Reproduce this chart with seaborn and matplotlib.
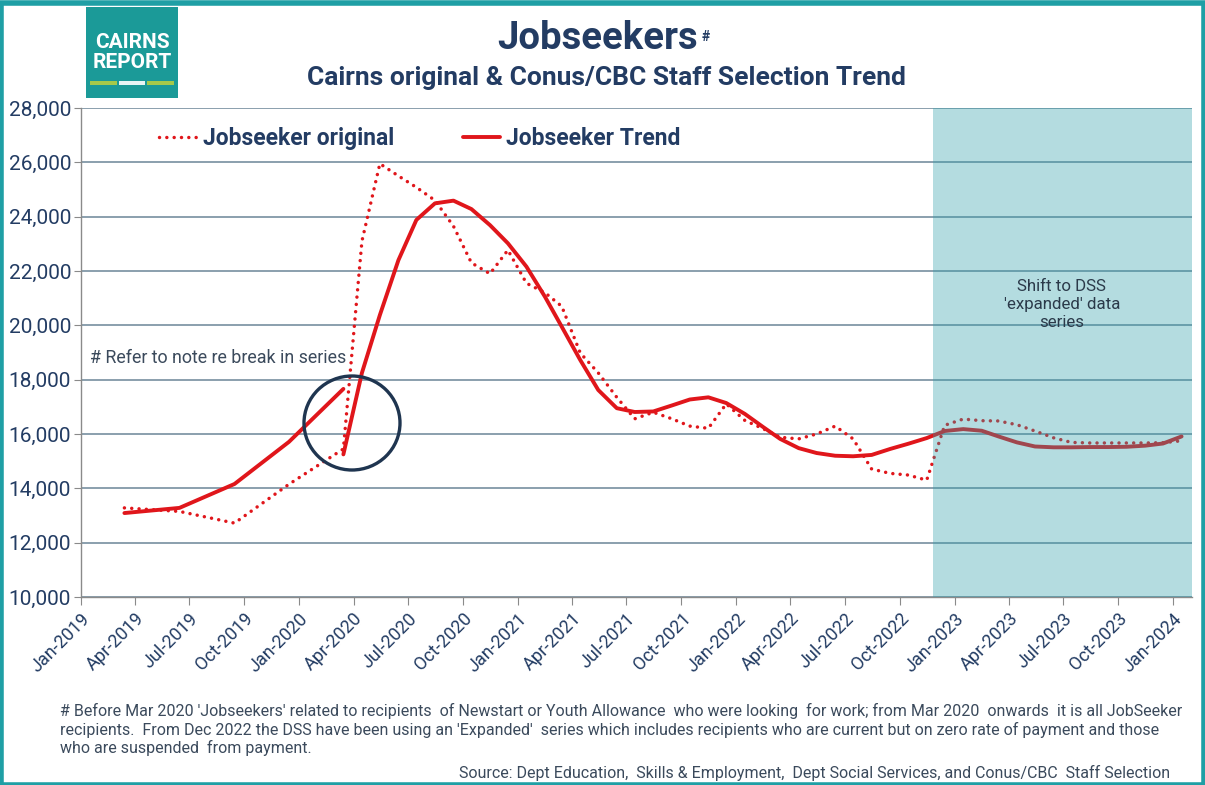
import pandas as pd
import seaborn as sns
import matplotlib.pyplot as plt
import matplotlib.dates as mdates
from matplotlib.patches import Ellipse, Rectangle
from matplotlib.ticker import FuncFormatter
from matplotlib import font_manager

# ---- data ----
orig_months = ['2019-03', '2019-06', '2019-09', '2019-12', '2020-03',
               '2020-04', '2020-05', '2020-06', '2020-07', '2020-08', '2020-09',
               '2020-10', '2020-11', '2020-12', '2021-01', '2021-02', '2021-03',
               '2021-04', '2021-05', '2021-06', '2021-07', '2021-08', '2021-09',
               '2021-10', '2021-11', '2021-12', '2022-01', '2022-02', '2022-03',
               '2022-04', '2022-05', '2022-06', '2022-07', '2022-08', '2022-09',
               '2022-10', '2022-11', '2022-12', '2023-01', '2023-02', '2023-03',
               '2023-04', '2023-05', '2023-06', '2023-07', '2023-08', '2023-09',
               '2023-10', '2023-11', '2023-12', '2024-01']
orig_values = [13280, 13150, 12720, 14150, 15450,
               23100, 25950, 25500, 25080, 24600, 23650,
               22300, 21900, 22770, 21550, 21200, 20700,
               18980, 18250, 17350, 16560, 16800, 16560,
               16290, 16210, 17110, 16500, 16190, 15880,
               15820, 16000, 16290, 15820, 14710, 14550,
               14490, 14300, 16320, 16550, 16490, 16480,
               16340, 16110, 15860, 15690, 15670, 15670,
               15670, 15670, 15680, 15750]

trend_old_months = ['2019-03', '2019-06', '2019-09', '2019-12', '2020-03']
trend_old_values = [13090, 13280, 14160, 15710, 17660]

trend_new_months = orig_months[4:]
trend_new_values = [15250,
                    18250, 20380, 22400, 23880, 24490, 24590,
                    24280, 23690, 23020, 22160, 21050, 19950,
                    18720, 17620, 16950, 16810, 16830, 17050,
                    17270, 17350, 17140, 16740, 16250, 15820,
                    15480, 15300, 15200, 15180, 15230, 15450,
                    15640, 15850, 16110, 16180, 16120, 15910,
                    15690, 15540, 15510, 15510, 15520, 15520,
                    15530, 15570, 15650, 15910]

tick_months = pd.date_range('2019-01-01', '2024-01-01', freq='3MS')
shade_start = '2022-11-26'

# ---- style ----
sns.set_style('white')
plt.rcParams['font.family'] = ['Roboto', 'DejaVu Sans']
try:
    font_manager.findfont('Liberation Sans Narrow', fallback_to_default=False)
    narrow = ['Liberation Sans Narrow', 'Roboto']
    foot_size, xt_size = 13.4, 16
except Exception:
    narrow = ['Roboto', 'DejaVu Sans']
    foot_size, xt_size = 11.5, 13

navy = '#233c63'
red = '#e0161b'
grid_c = '#6b8597'
teal = '#1b9a98'


def mid_month(months):
    return pd.to_datetime(months) + pd.Timedelta(days=14)


orig = pd.DataFrame({'date': mid_month(orig_months), 'value': orig_values})
t_old = pd.DataFrame({'date': mid_month(trend_old_months), 'value': trend_old_values})
t_new = pd.DataFrame({'date': mid_month(trend_new_months), 'value': trend_new_values})

fig = plt.figure(figsize=(12.05, 7.85), dpi=100)
ax = fig.add_axes([0.067, 0.2395, 0.922, 0.6229])

sns.lineplot(data=orig, x='date', y='value', ax=ax, color=red, lw=2.5,
             linestyle=(0, (0.01, 2.1)), dash_capstyle='round',
             label='Jobseeker original', zorder=2)
sns.lineplot(data=t_old, x='date', y='value', ax=ax, color=red, lw=2.8,
             label='Jobseeker Trend', zorder=2)
sns.lineplot(data=t_new, x='date', y='value', ax=ax, color=red, lw=2.8,
             zorder=2)

xmin, xmax = pd.Timestamp('2019-01-01'), pd.Timestamp('2024-02-01')
ax.axvspan(pd.Timestamp(shade_start), xmax, color='#2fa0aa', alpha=0.36,
           lw=0, zorder=3)

ax.set_xlim(xmin, xmax)
ax.set_ylim(10000, 28000)
ax.set_yticks(range(10000, 28001, 2000))
ax.yaxis.set_major_formatter(FuncFormatter(lambda v, p: f'{int(v):,}'))
ax.set_xticks(tick_months)
ax.xaxis.set_major_formatter(mdates.DateFormatter('%b-%Y'))
ax.set_xlabel('')
ax.set_ylabel('')

ax.grid(axis='y', color=grid_c, lw=1.1, zorder=1)
ax.grid(axis='x', visible=False)
for s in ['top', 'right']:
    ax.spines[s].set_visible(False)
for s in ['left', 'bottom']:
    ax.spines[s].set_color('#8a8a8a')
    ax.spines[s].set_linewidth(1)
ax.tick_params(axis='y', labelsize=15, labelcolor=navy, length=5,
               color='#8a8a8a', direction='out', left=True, pad=2)
ax.tick_params(axis='x', labelsize=xt_size, labelcolor=navy, length=6,
               color='#8a8a8a', direction='out', bottom=True, pad=3)
for lab in ax.get_xticklabels():
    lab.set_rotation(45)
    lab.set_ha('right')
    lab.set_rotation_mode('anchor')
    lab.set_family(narrow)

# legend
h, l = ax.get_legend_handles_labels()
leg = ax.legend(h, l, loc='center left', bbox_to_anchor=(0.052, 0.938),
                ncol=2, frameon=False, handlelength=1.65, columnspacing=3.0,
                handletextpad=0.25, prop={'weight': 'bold', 'size': 16.5})
for t in leg.get_texts():
    t.set_color(navy)

# annotations
ax.text(0.008, 0.488, '# Refer to note re break in series', transform=ax.transAxes,
        fontsize=12.9, color='#3b4a5c', va='center', ha='left', zorder=5)
fig.add_artist(Ellipse((352 / 1205, 1 - 423 / 785), 96 / 1205, 94 / 785,
                       transform=fig.transFigure, fill=False, ec='#1f3550', lw=2.4))
ax.text(0.883, 0.598, "Shift to DSS\n'expanded' data\nseries", transform=ax.transAxes,
        fontsize=12.2, color='#2b3a4a', ha='center', va='center',
        linespacing=1.25, zorder=5)

# titles
fig.text(0.4955, 0.951, 'Jobseekers', ha='center', va='center', fontsize=27.5,
         fontweight='bold', color=navy)
fig.text(0.586, 0.953, '#', ha='center', va='center', fontsize=10,
         fontweight='bold', color=navy)
fig.text(0.503, 0.9, 'Cairns original & Conus/CBC Staff Selection Trend',
         ha='center', va='center', fontsize=19, fontweight='bold', color=navy)

# logo
fig.add_artist(Rectangle((86 / 1205, 1 - 98 / 785), 92 / 1205, 91 / 785,
                         transform=fig.transFigure, color=teal, lw=0))
fig.text(132 / 1205, 1 - 43 / 785, 'CAIRNS', ha='center', va='center',
         fontsize=15, fontweight='bold', color='white')
fig.text(132 / 1205, 1 - 62 / 785, 'REPORT', ha='center', va='center',
         fontsize=15, fontweight='bold', color='white')
for x0, x1, c in [(90, 117, '#a6c94a'), (119, 145, '#e8f4f4'), (147, 174, '#a6c94a')]:
    fig.add_artist(Rectangle((x0 / 1205, 1 - 85 / 785), (x1 - x0) / 1205, 4 / 785,
                             transform=fig.transFigure, color=c, lw=0))

# frame
fig.add_artist(Rectangle((0.001, 0.0), 0.998, 0.996, transform=fig.transFigure,
                         fill=False, ec='#1f9fa5', lw=4))

# footnotes
foot = ("# Before Mar 2020 'Jobseekers' related to recipients  of Newstart or Youth Allowance  who were looking  for work; "
        "from Mar 2020  onwards  it is all JobSeeker\nrecipients.  From Dec 2022 the DSS have been using an 'Expanded'  "
        "series which includes recipients who are current but on zero rate of payment and those\nwho are suspended  from payment.")
fig.text(60 / 1205, 1 - 703 / 785, foot, ha='left', va='top', fontsize=foot_size,
         color='#3b4a5c', family=narrow, linespacing=1.2)
fig.text(1170 / 1205, 1 - 773 / 785,
         'Source: Dept Education,  Skills & Employment,  Dept Social Services, and Conus/CBC  Staff Selection',
         ha='right', va='center', fontsize=foot_size, color='#3b4a5c', family=narrow)

fig.savefig('out.png', dpi=100)
